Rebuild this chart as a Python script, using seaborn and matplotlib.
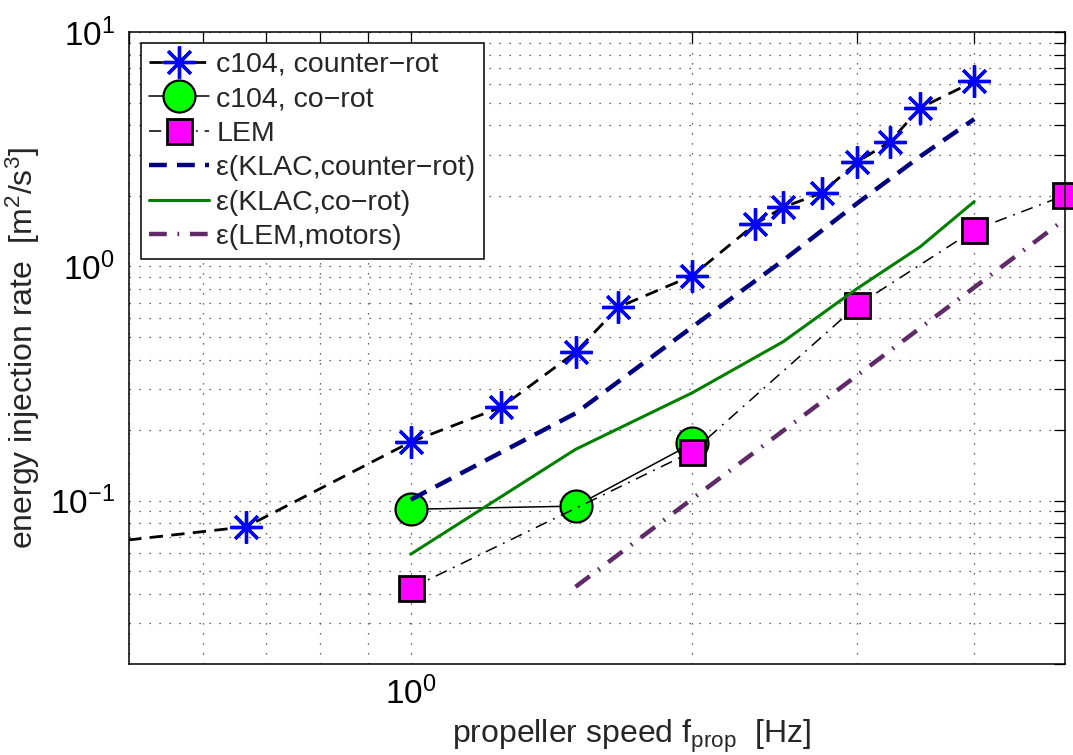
import numpy as np
import matplotlib
matplotlib.use("Agg")
import matplotlib.pyplot as plt
import seaborn as sns
from matplotlib.ticker import LogLocator, NullFormatter

# c104, counter-rotating propellers (measured)
f_counter = [0.333, 0.667, 1.0, 1.25, 1.5, 1.667, 2.0, 2.333, 2.5, 2.75, 3.0, 3.25, 3.5, 4.0]
eps_counter = [0.0567, 0.0774, 0.178, 0.251, 0.43, 0.67, 0.913, 1.515, 1.786, 2.06, 2.79, 3.40, 4.74, 6.16]

# c104, co-rotating
f_corot = [1.0, 1.5, 2.0]
eps_corot = [0.0919, 0.0948, 0.1756]

# LEM
f_lem = [1.0, 2.0, 3.0, 4.0, 5.0]
eps_lem = [0.0423, 0.162, 0.682, 1.43, 2.01]

# KLAC estimates
f_klac = [1.0, 1.5, 2.0, 2.5, 3.0, 3.5, 4.0]
eps_klac_counter = [0.101, 0.236, 0.552, 1.06, 1.86, 2.94, 4.25]
eps_klac_corot = [0.0591, 0.1656, 0.289, 0.477, 0.805, 1.21, 1.89]

# LEM motor power
f_motors = [1.5, 2.0, 3.0, 4.0, 5.0]
eps_motors = [0.0429, 0.102, 0.343, 0.813, 1.59]

labels = ["c104, counter\u2212rot", "c104, co\u2212rot", "LEM",
          "\u03b5(KLAC,counter\u2212rot)", "\u03b5(KLAC,co\u2212rot)", "\u03b5(LEM,motors)"]

sns.set_style("white")
plt.rcParams["font.family"] = ["Liberation Sans", "DejaVu Sans"]
plt.rcParams["mathtext.fontset"] = "custom"
plt.rcParams["mathtext.rm"] = "Liberation Sans"
plt.rcParams["mathtext.it"] = "Liberation Sans:italic"
plt.rcParams["mathtext.bf"] = "Liberation Sans:bold"

fig = plt.figure(figsize=(10.73, 7.55), dpi=100)
ax = fig.add_axes([0.1202, 0.1199, 0.8723, 0.8377])
ax.set_xscale("log")
ax.set_yscale("log")

sns.lineplot(x=f_counter, y=eps_counter, ax=ax, sort=False, errorbar=None,
             label=labels[0], color="k", lw=2, linestyle=(0, (4.8, 3)),
             marker=(8, 2, 0), markersize=23, markeredgecolor="#0000ff",
             markerfacecolor="#0000ff", markeredgewidth=2.4)
sns.lineplot(x=f_corot, y=eps_corot, ax=ax, sort=False, errorbar=None,
             label=labels[1], color="k", lw=1.1, marker="o", markersize=23,
             markerfacecolor="#00ff00", markeredgecolor="k", markeredgewidth=1.6)
sns.lineplot(x=f_lem, y=eps_lem, ax=ax, sort=False, errorbar=None,
             label=labels[2], color="k", lw=1.1, linestyle=(0, (8, 4.5, 1.2, 4.5)),
             marker="s", markersize=18, markerfacecolor="#ff00ff",
             markeredgecolor="k", markeredgewidth=2, clip_on=False)
sns.lineplot(x=f_klac, y=eps_klac_counter, ax=ax, sort=False, errorbar=None,
             label=labels[3], color="#00007f", lw=3.2, linestyle=(0, (4, 2.3)))
sns.lineplot(x=f_klac, y=eps_klac_corot, ax=ax, sort=False, errorbar=None,
             label=labels[4], color="#007f00", lw=2.2)
sns.lineplot(x=f_motors, y=eps_motors, ax=ax, sort=False, errorbar=None,
             label=labels[5], color="#602a68", lw=3.2,
             linestyle=(0, (4, 2.4, 0.4, 2.4)))

ax.set_xlim(0.5, 5)
ax.set_ylim(0.02, 10)

for axis in (ax.xaxis, ax.yaxis):
    axis.set_major_locator(LogLocator(base=10))
    axis.set_minor_locator(LogLocator(base=10, subs=np.arange(2, 10)))
    axis.set_minor_formatter(NullFormatter())

ax.grid(True, which="both", linestyle=(0, (1, 7)), color="0.2", lw=0.9)
ax.tick_params(which="both", direction="in", top=True, right=True,
               length=8, width=0.9, colors="k", labelsize=24)
ax.tick_params(axis="x", which="major", pad=9)
ax.tick_params(axis="y", which="major", pad=10)
for s in ax.spines.values():
    s.set_color("k")
    s.set_linewidth(1.1)

ax.set_xlabel("propeller speed f$_{\\mathrm{prop}}$  [Hz]", fontsize=23)
ax.set_ylabel("energy injection rate  [m$^2$/s$^3$]", fontsize=23, labelpad=6)
ax.xaxis.set_label_coords(0.537, -0.085)

leg = ax.legend(loc="upper left", bbox_to_anchor=(0.0125, 0.9826), borderaxespad=0,
                fontsize=20.5, frameon=True, fancybox=False, edgecolor="k",
                framealpha=1, handlelength=2.1, labelspacing=0.3, borderpad=0.3,
                handletextpad=0.25, numpoints=1)
leg.get_frame().set_linewidth(1.1)

fig.savefig("out.png", dpi=100)
